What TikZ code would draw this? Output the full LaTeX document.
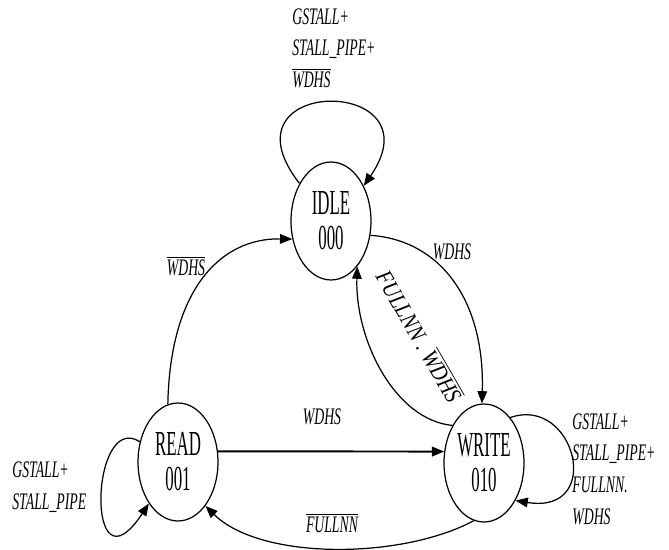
\documentclass[tikz,border=0pt]{standalone}
\usepackage{fontspec}
\usepackage{tikz}
\usetikzlibrary{shapes.geometric, arrows.meta}
\newfontfamily\statefont[FakeStretch=0.48]{Liberation Serif}
\newfontfamily\condfont[FakeStretch=0.58]{Liberation Serif}
\newfontfamily\rotfont[FakeStretch=0.85]{Liberation Serif}
\newcommand{\negsig}[1]{$\overline{\mbox{#1}}$}

\begin{document}
\begin{tikzpicture}[
    x=0.02cm, y=-0.02cm,
    state/.style={draw, ellipse, line width=0.7pt, minimum width=1.6cm, minimum height=2.36cm, inner sep=0pt, align=center, font=\statefont\fontsize{20}{20}\selectfont},
    cond/.style={align=left, inner sep=0pt, font=\condfont\itshape\fontsize{13.5}{18}\selectfont},
    trans/.style={line width=0.7pt, -{Triangle[length=7pt,width=5.5pt]}}
]
    \useasboundingbox (0,0) rectangle (669,550);

    % ================= STATES =================
    \node[state] (IDLE) at (331,221) {IDLE\\000};
    \node[state] (READ) at (178,462) {READ\\001};
    \node[state] (WRITE) at (484,463) {WRITE\\010};

    % ================= SELF LOOPS =================
    \draw[trans] (IDLE.130) .. controls (215,75) and (440,75) .. (IDLE.47);
    \draw[trans] (READ.152) .. controls (90,410) and (85,600) .. (READ.235);
    \draw[trans] (WRITE.60) .. controls (575,395) and (605,515) .. (WRITE.-50);

    \node[cond, anchor=west] (idleloop) at (292,48) {GSTALL+\\STALL\_PIPE+\\\negsig{WDHS}};
    \node[cond, anchor=west] (readloop) at (12,487) {GSTALL+\\STALL\_PIPE};
    \node[cond, anchor=west] (writeloop) at (572,469) {GSTALL+\\STALL\_PIPE+\\FULLNN.\\WDHS};

    % ================= TRANSITIONS =================
    \draw[trans] (READ.100) .. controls (170,290) and (220,238) .. (IDLE.205);
    \draw[trans] (IDLE.-20) .. controls (440,240) and (485,300) .. (WRITE.92);
    \draw[trans] (WRITE.130) .. controls (395,420) and (355,340) .. (IDLE.-60);
    \draw[trans] (WRITE.-100) .. controls (400,560) and (260,560) .. (READ.-58);
    \draw[trans, line width=1.1pt] (READ.15) -- (WRITE.164);

    \node[cond] (wdhsA) at (186,266) {\negsig{WDHS}};
    \node[cond] (wdhsB) at (452,252) {WDHS};
    \node[cond] (wdhsC) at (322,417) {WDHS};
    \node[cond] (fullA) at (332,523) {\negsig{FULLNN}};
    \node[cond, rotate=-60, font=\rotfont\itshape\fontsize{13.5}{14}\selectfont] (fullB) at (420,336) {FULLNN\ .\ \negsig{WDHS}};

\end{tikzpicture}
\end{document}
